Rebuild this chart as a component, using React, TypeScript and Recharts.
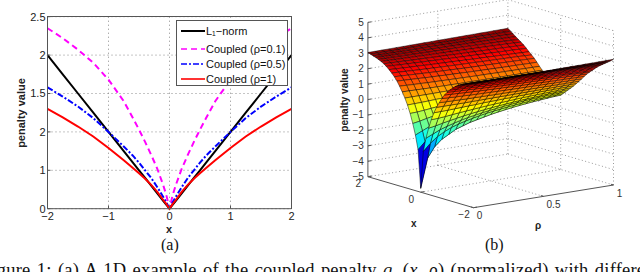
import {
  CartesianGrid,
  Legend,
  Line,
  LineChart,
  Scatter,
  ScatterChart,
  XAxis,
  YAxis
} from 'recharts'

// panel (a): values at x >= 0, mirrored for x < 0
const xHalf = [0, 0.05, 0.1, 0.2, 0.3, 0.4, 0.5, 0.6, 0.75, 1, 1.25, 1.5, 1.75, 2]
const l1Norm = [0, 0.05, 0.1, 0.2, 0.3, 0.4, 0.5, 0.6, 0.75, 1, 1.25, 1.5, 1.75, 2]
const coupled01 = [0, 0.17, 0.3, 0.52, 0.7, 0.87, 1.03, 1.18, 1.4, 1.68, 1.9, 2.07, 2.22, 2.35]
const coupled05 = [0, 0.08, 0.15, 0.28, 0.4, 0.5, 0.6, 0.69, 0.81, 1, 1.18, 1.33, 1.46, 1.58]
const coupled1 = [0, 0.06, 0.11, 0.22, 0.31, 0.39, 0.46, 0.53, 0.63, 0.79, 0.94, 1.07, 1.19, 1.3]

const xTicks = [-2, -1, 0, 1, 2]
const yTicks = [0, 0.5, 1, 1.5, 2, 2.5]
const yTickLabels = ['0', '1', '2', '1.5', '2', '2.5']

const series = [
  { key: 'l1', name: 'L₁−norm', color: '#000000', dash: undefined, values: l1Norm },
  { key: 'c01', name: 'Coupled (ρ=0.1)', color: '#ff00ff', dash: '6 4', values: coupled01 },
  { key: 'c05', name: 'Coupled (ρ=0.5)', color: '#0000ff', dash: '6 2 2 2', values: coupled05 },
  { key: 'c1', name: 'Coupled (ρ=1)', color: '#ff0000', dash: undefined, values: coupled1 }
]

const lineData = [
  ...xHalf.map((x, i) => ({ i, x: -x })).reverse(),
  ...xHalf.map((x, i) => ({ i, x })).slice(1)
].map(({ i, x }) => {
  const row: Record<string, number> = { x }
  series.forEach(s => {
    row[s.key] = s.values[i]
  })
  return row
})

// panel (b): surface heights, one row per |x|, one column per rho
const surfaceX = [0, 0.1, 0.2, 0.3, 0.4, 0.5, 0.6, 0.7, 0.8, 0.9, 1, 1.1, 1.2, 1.3, 1.4, 1.5, 1.6, 1.7, 1.8, 1.9, 2]
const surfaceRho = [0, 0.05, 0.1, 0.15, 0.2, 0.25, 0.3, 0.35, 0.4, 0.45, 0.5, 0.55, 0.6, 0.65, 0.7, 0.75, 0.8, 0.85, 0.9, 0.95, 1]
const surfaceZ = [
  [-4.75, -2.85, -2.2, -1.8, -1.55, -1.3, -1.15, -1, -0.9, -0.8, -0.7, -0.62, -0.55, -0.48, -0.42, -0.37, -0.32, -0.28, -0.24, -0.2, -0.18],
  [-2.3, -1.85, -1.5, -1.25, -1.05, -0.9, -0.78, -0.68, -0.58, -0.5, -0.43, -0.37, -0.31, -0.26, -0.21, -0.17, -0.13, -0.1, -0.07, -0.04, -0.02],
  [-1.4, -1.2, -1, -0.85, -0.72, -0.6, -0.5, -0.42, -0.34, -0.27, -0.21, -0.15, -0.1, -0.05, -0.01, 0.03, 0.06, 0.09, 0.11, 0.13, 0.15],
  [-0.7, -0.62, -0.52, -0.43, -0.35, -0.27, -0.2, -0.14, -0.08, -0.03, 0.02, 0.06, 0.1, 0.14, 0.17, 0.2, 0.23, 0.26, 0.28, 0.31, 0.33],
  [-0.1, -0.08, -0.04, 0.01, 0.06, 0.1, 0.14, 0.18, 0.22, 0.25, 0.28, 0.31, 0.34, 0.37, 0.39, 0.41, 0.43, 0.45, 0.47, 0.49, 0.5],
  [0.4, 0.41, 0.42, 0.44, 0.46, 0.48, 0.5, 0.52, 0.54, 0.55, 0.57, 0.58, 0.6, 0.61, 0.62, 0.64, 0.65, 0.66, 0.67, 0.68, 0.68],
  [0.8, 0.8, 0.8, 0.8, 0.8, 0.81, 0.81, 0.82, 0.82, 0.83, 0.83, 0.84, 0.84, 0.85, 0.85, 0.86, 0.86, 0.87, 0.87, 0.88, 0.88],
  [1.15, 1.14, 1.13, 1.12, 1.11, 1.11, 1.1, 1.1, 1.09, 1.09, 1.09, 1.08, 1.08, 1.08, 1.08, 1.08, 1.08, 1.08, 1.08, 1.08, 1.08],
  [1.47, 1.45, 1.43, 1.42, 1.4, 1.39, 1.38, 1.37, 1.36, 1.35, 1.34, 1.33, 1.33, 1.32, 1.31, 1.31, 1.3, 1.3, 1.29, 1.29, 1.28],
  [1.75, 1.73, 1.71, 1.69, 1.67, 1.65, 1.64, 1.62, 1.61, 1.6, 1.58, 1.57, 1.56, 1.55, 1.54, 1.53, 1.52, 1.52, 1.51, 1.5, 1.5],
  [1.98, 1.96, 1.94, 1.92, 1.9, 1.88, 1.86, 1.85, 1.83, 1.82, 1.8, 1.79, 1.78, 1.77, 1.76, 1.75, 1.74, 1.73, 1.72, 1.71, 1.7],
  [2.17, 2.15, 2.13, 2.11, 2.09, 2.07, 2.06, 2.04, 2.03, 2.01, 2, 1.99, 1.98, 1.96, 1.95, 1.94, 1.93, 1.92, 1.91, 1.89, 1.87],
  [2.34, 2.32, 2.3, 2.28, 2.27, 2.25, 2.23, 2.22, 2.2, 2.19, 2.17, 2.16, 2.14, 2.13, 2.12, 2.1, 2.09, 2.07, 2.06, 2.04, 2.03],
  [2.5, 2.48, 2.46, 2.44, 2.43, 2.41, 2.4, 2.38, 2.37, 2.35, 2.34, 2.32, 2.31, 2.29, 2.28, 2.27, 2.25, 2.24, 2.23, 2.21, 2.2],
  [2.62, 2.6, 2.59, 2.58, 2.56, 2.55, 2.54, 2.52, 2.51, 2.5, 2.48, 2.47, 2.46, 2.45, 2.43, 2.42, 2.41, 2.4, 2.38, 2.37, 2.36],
  [2.72, 2.71, 2.7, 2.69, 2.68, 2.67, 2.66, 2.65, 2.64, 2.63, 2.62, 2.61, 2.6, 2.59, 2.58, 2.57, 2.56, 2.55, 2.53, 2.52, 2.5],
  [2.8, 2.79, 2.79, 2.78, 2.77, 2.77, 2.76, 2.75, 2.75, 2.74, 2.73, 2.73, 2.72, 2.71, 2.7, 2.69, 2.68, 2.67, 2.66, 2.64, 2.62],
  [2.87, 2.87, 2.86, 2.86, 2.85, 2.85, 2.85, 2.84, 2.84, 2.83, 2.83, 2.83, 2.82, 2.82, 2.81, 2.81, 2.8, 2.79, 2.78, 2.77, 2.75],
  [2.93, 2.93, 2.93, 2.92, 2.92, 2.92, 2.92, 2.92, 2.92, 2.92, 2.92, 2.91, 2.91, 2.91, 2.91, 2.91, 2.91, 2.9, 2.9, 2.89, 2.88],
  [2.99, 2.99, 2.99, 2.99, 2.99, 2.99, 3, 3, 3, 3, 3, 3, 3, 3, 3, 3, 3, 3, 3, 3.01, 3.01],
  [3.05, 3.05, 3.06, 3.06, 3.07, 3.07, 3.08, 3.08, 3.09, 3.09, 3.1, 3.1, 3.11, 3.11, 3.12, 3.12, 3.13, 3.13, 3.14, 3.14, 3.15]
]

const zTicks = [-5, -4, -3, -2, -1, 0, 1, 2, 3, 4, 5]
const boxXTicks = [2, 0, -2]
const boxRhoTicks = [0, 0.5, 1]

const jetColors = [
  [0, 0, 128],
  [0, 0, 255],
  [0, 255, 255],
  [255, 255, 0],
  [255, 0, 0],
  [128, 0, 0]
]
const jetStops = [0, 0.125, 0.375, 0.625, 0.875, 1]

function jet(z: number) {
  const t = Math.min(1, Math.max(0, (z + 5) / 8.15))
  let k = 0
  while (k < jetStops.length - 2 && t > jetStops[k + 1]) k++
  const f = (t - jetStops[k]) / (jetStops[k + 1] - jetStops[k])
  const c = jetColors[k].map((v, n) => Math.round(v + (jetColors[k + 1][n] - v) * f))
  return `rgb(${c.join(',')})`
}

// orthographic view of the 3D box, in page pixels
function project(x: number, rho: number, z: number) {
  return {
    px: 473.5 - 26.4 * (x + 2) + 140 * rho,
    py: 207.7 - 7.75 * (x + 2) - 22.7 * rho - 15.43 * (z + 5)
  }
}

// x runs from far (2) to near (-2) and rho from far (1) to near (0), so near cells paint last
const fullRows = [
  ...surfaceX.map((x, i) => ({ x, i })).reverse(),
  ...surfaceX.map((x, i) => ({ x: -x, i })).slice(1)
]

const cells: any[] = []
for (let r = 0; r < fullRows.length - 1; r++) {
  for (let c = surfaceRho.length - 1; c > 0; c--) {
    const a = fullRows[r]
    const b = fullRows[r + 1]
    const corners = [
      [a.x, surfaceRho[c], surfaceZ[a.i][c]],
      [a.x, surfaceRho[c - 1], surfaceZ[a.i][c - 1]],
      [b.x, surfaceRho[c - 1], surfaceZ[b.i][c - 1]],
      [b.x, surfaceRho[c], surfaceZ[b.i][c]]
    ].map(p => project(p[0], p[1], p[2]))
    const cornerZ = [surfaceZ[a.i][c], surfaceZ[a.i][c - 1], surfaceZ[b.i][c - 1], surfaceZ[b.i][c]]
    // flat cell colour leans to the lowest corner, like the spike in the picture
    const cellZ = Math.min(...cornerZ) * 0.7 + (cornerZ.reduce((sum, v) => sum + v, 0) / 4) * 0.3
    cells.push({
      px: corners[0].px,
      py: corners[0].py,
      offsets: corners.map(p => [p.px - corners[0].px, p.py - corners[0].py]),
      fill: jet(cellZ)
    })
  }
}

const segment = (a: number[], b: number[]) => [project(a[0], a[1], a[2]), project(b[0], b[1], b[2])]

const gridSegments = [
  ...zTicks.map(z => segment([2, 0, z], [2, 1, z])),
  ...zTicks.map(z => segment([2, 1, z], [-2, 1, z])),
  segment([2, 0.5, -5], [2, 0.5, 5]),
  segment([2, 1, -5], [2, 1, 5]),
  segment([0, 1, -5], [0, 1, 5]),
  segment([-2, 1, -5], [-2, 1, 5]),
  segment([2, 0.5, -5], [-2, 0.5, -5]),
  segment([0, 0, -5], [0, 1, -5])
]

const axisSegments = [
  segment([2, 0, -5], [2, 0, 5]),
  segment([2, 0, -5], [-2, 0, -5]),
  segment([-2, 0, -5], [-2, 1, -5]),
  ...zTicks.map(z => segment([2, 0, z], [2, 0.025, z])),
  ...boxXTicks.map(x => segment([x, 0, -5], [x, 0.025, -5])),
  ...boxRhoTicks.map(r => segment([-2, r, -5], [-1.9, r, -5]))
]

const boxLabels = [
  ...zTicks.map(z => {
    const p = project(2, 0, z)
    return { px: p.px - 4, py: p.py, text: String(z).replace('-', '−'), anchor: 'end' }
  }),
  ...boxXTicks.map(x => {
    const p = project(x, 0, -5)
    return { px: p.px - 9.5, py: p.py + 7, text: String(x).replace('-', '−'), anchor: 'middle' }
  }),
  ...boxRhoTicks.map(r => {
    const p = project(-2, r, -5)
    return { px: p.px + (r === 0.5 ? 10 : 6), py: p.py + 8, text: String(r), anchor: 'middle' }
  })
]

const fontFamily = '"Liberation Sans", Arial, sans-serif'
const tickStyle = { fill: '#222222', fontSize: 11, fontFamily }
const axisColor = '#555555'

function LegendBox() {
  return (
    <div
      style={{
        width: 112,
        height: 66,
        background: '#ffffff',
        border: `1px solid ${axisColor}`,
        boxSizing: 'border-box',
        position: 'relative',
        fontFamily,
        fontSize: 11,
        color: '#111111'
      }}
    >
      {series.map((s, i) => (
        <div
          key={s.key}
          style={{ position: 'absolute', left: 4, top: [3, 21, 36, 51][i], height: 14, display: 'flex', alignItems: 'center' }}
        >
          <svg width={24} height={14} style={{ display: 'block' }}>
            <line x1={0} x2={24} y1={7} y2={7} stroke={s.color} strokeWidth={i === 0 ? 2 : 1.6} strokeDasharray={s.dash} />
          </svg>
          <span style={{ marginLeft: 1, whiteSpace: 'nowrap' }}>{s.name}</span>
        </div>
      ))}
    </div>
  )
}

const emptyShape = () => null

function CellShape(props: any) {
  const { cx, cy, payload } = props
  const points = payload.offsets.map((o: number[]) => `${cx + o[0]},${cy + o[1]}`).join(' ')
  return <polygon points={points} fill={payload.fill} stroke="#000000" strokeOpacity={0.8} strokeWidth={0.6} />
}

function LabelShape(props: any) {
  const { cx, cy, payload } = props
  return (
    <text x={cx} y={cy} dy="0.35em" textAnchor={payload.anchor} fill="#333333" fontSize={10} fontFamily={fontFamily}>
      {payload.text}
    </text>
  )
}

function Caption({ left, top, size, spread, children }: { left: number; top: number; size: number; spread?: boolean; children: React.ReactNode }) {
  return (
    <div
      style={{
        position: 'absolute',
        left,
        top,
        whiteSpace: 'nowrap',
        fontFamily: '"Liberation Serif", serif',
        fontSize: size,
        letterSpacing: spread ? 0.2 : 0,
        wordSpacing: spread ? 1.5 : 0,
        color: '#111111'
      }}
    >
      {children}
    </div>
  )
}

export default function App() {
  return (
    <div style={{ position: 'absolute', left: 0, top: 0, width: 640, height: 272, overflow: 'hidden', background: '#ffffff' }}>
      <div style={{ position: 'absolute', left: 0, top: 0 }}>
        <LineChart
          width={320}
          height={272}
          data={lineData}
          margin={{ top: 16.7, right: 28.5, left: 17.5, bottom: 33.3 }}
        >
          <CartesianGrid stroke="#8a8a8a" strokeDasharray="1 3" />
          <XAxis
            dataKey="x"
            type="number"
            domain={[-2, 2]}
            ticks={xTicks}
            interval={0}
            height={30}
            tick={tickStyle}
            tickSize={-3}
            tickMargin={6}
            tickFormatter={(v: number) => String(v).replace('-', '−')}
            stroke={axisColor}
          />
          <YAxis
            type="number"
            domain={[0, 2.5]}
            ticks={yTicks}
            interval={0}
            width={30}
            tick={tickStyle}
            tickSize={-3}
            tickMargin={5}
            tickFormatter={(_v: number, i: number) => yTickLabels[i]}
            stroke={axisColor}
          />
          {series.map(s => (
            <Line
              key={s.key}
              dataKey={s.key}
              name={s.name}
              stroke={s.color}
              strokeWidth={2}
              strokeDasharray={s.dash}
              dot={false}
              type="linear"
              isAnimationActive={false}
            />
          ))}
          <Legend
            layout="vertical"
            align="center"
            verticalAlign="middle"
            content={() => <LegendBox />}
            wrapperStyle={{ left: 176, top: 20, bottom: 'auto', right: 'auto', width: 112, height: 66 }}
          />
        </LineChart>
      </div>
      {/* frame of panel (a), on top of the line ends like the reference */}
      <div
        style={{
          position: 'absolute',
          left: 47,
          top: 16,
          width: 244,
          height: 192,
          boxSizing: 'content-box',
          borderTop: `1px solid ${axisColor}`,
          borderRight: `1px solid ${axisColor}`,
          pointerEvents: 'none'
        }}
      />
      <div style={{ position: 'absolute', left: 320, top: 0 }}>
        <ScatterChart width={320} height={272} margin={{ top: 0, right: 0, bottom: 0, left: 0 }}>
          <XAxis dataKey="px" type="number" domain={[320, 640]} allowDataOverflow hide />
          <YAxis dataKey="py" type="number" domain={[0, 272]} allowDataOverflow reversed hide />
          {gridSegments.map((seg, i) => (
            <Scatter
              key={`grid${i}`}
              data={seg}
              line={{ stroke: '#9a9a9a', strokeDasharray: '1 2.5', strokeWidth: 1 }}
              shape={emptyShape}
              isAnimationActive={false}
            />
          ))}
          {axisSegments.map((seg, i) => (
            <Scatter
              key={`axis${i}`}
              data={seg}
              line={{ stroke: axisColor, strokeWidth: 1 }}
              shape={emptyShape}
              isAnimationActive={false}
            />
          ))}
          <Scatter data={cells} shape={CellShape} isAnimationActive={false} />
          <Scatter data={boxLabels} shape={LabelShape} isAnimationActive={false} />
        </ScatterChart>
      </div>
      <div style={{ position: 'absolute', left: 21, top: 113, transform: 'translate(-50%,-50%) rotate(-90deg)', whiteSpace: 'nowrap', font: `bold 11px ${fontFamily}`, color: '#222222' }}>
        penalty value
      </div>
      <div style={{ position: 'absolute', left: 166, top: 223, font: `bold 11px ${fontFamily}`, color: '#222222' }}>x</div>
      <div style={{ position: 'absolute', left: 344, top: 100, transform: 'translate(-50%,-50%) rotate(-90deg)', whiteSpace: 'nowrap', font: `bold 10px ${fontFamily}`, color: '#222222' }}>
        penalty value
      </div>
      <div style={{ position: 'absolute', left: 411, top: 218, font: `bold 10px ${fontFamily}`, color: '#222222' }}>x</div>
      <div style={{ position: 'absolute', left: 535, top: 220, font: `bold 10px ${fontFamily}`, color: '#222222' }}>ρ</div>
      <Caption left={161} top={236} size={16}>(a)</Caption>
      <Caption left={485} top={236} size={16}>(b)</Caption>
      <Caption left={-19} top={260} size={18.5} spread>
        Figure 1: (a) A 1D example of the coupled penalty <i>q</i><span style={{ display: 'inline-block', width: 4 }} /> (<i>x</i>, <i>ρ</i>) (normalized) with different
      </Caption>
    </div>
  )
}
